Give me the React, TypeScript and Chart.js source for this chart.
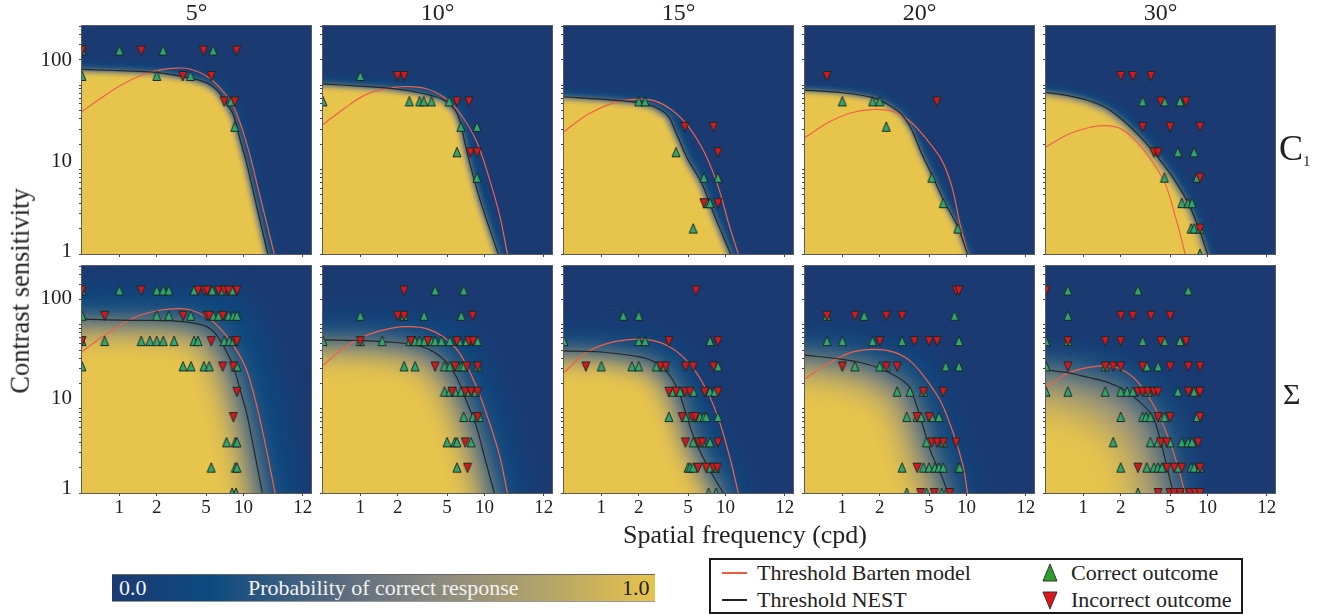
import React, { useEffect, useRef } from "react";
import { Chart, registerables } from "chart.js";

Chart.register(...registerables);

type Rows = [number, number[]][];

const FONT = '"Liberation Serif", serif';
const INK = "#222222";

const columnTitles = ["5°", "10°", "15°", "20°", "30°"];
const xTickValues = [1, 2, 5, 10, 30];
const xTickLabels = ["1", "2", "5", "10", "12"];
const yTickValues = [1, 2, 3, 4, 5, 6, 7, 8, 9, 10, 20, 30, 40, 50, 60, 70, 80, 90, 100, 200, 300, 400, 500];
const yLabelAnchorsTop = [1.06, 12.5, 193];
const yLabelAnchorsBottom = [1.13, 13.4, 207];
const yLabelTexts = ["1", "10", "100"];

// ---------- C1, 5° ----------
const a1Correct: Rows = [[256, [0.5, 1, 2.25, 5.7]], [128, [0.5, 2, 3.74]], [64, [7.9]], [32, [8.5]]];
const a1Incorrect: Rows = [[256, [0.5, 1.5, 4.76, 8.8]], [128, [3.24, 5.5]], [64, [7, 8.5]]];
const a1NestX = [0.5, 1.3, 2, 3.74, 5.06, 6.1, 7.3, 8.3, 9.4, 10.6, 12.8, 15.7];
const a1NestY = [153, 146, 141, 121, 106, 88, 61, 44, 22.5, 11.9, 3.6, 1];
const a1BartenX = [0.5, 0.7, 1.01, 1.47, 2.13, 2.9, 3.7, 5.06, 6.5, 8.3, 10.6, 13.6, 17.7];
const a1BartenY = [48.5, 69, 98, 129, 151, 159, 155, 127, 92, 56, 20.5, 4.8, 1];

// ---------- C1, 10° ----------
const b1Correct: Rows = [[128, [1]], [64, [0.5, 2.48, 3, 3.24, 3.74, 5.2]], [32, [6.45, 8.7]], [16, [6]], [8, [8.7]]];
const b1Incorrect: Rows = [[128, [1.99, 2.25]], [64, [6, 7.5]], [16, [7.7, 8.7]]];
const b1NestX = [0.5, 1, 1.84, 3, 4.64, 5.77, 6.4, 6.95, 7.6, 9.2, 12.9];
const b1NestY = [103, 97, 90.5, 81, 67.6, 51.5, 35.7, 20.7, 12, 4.4, 1];
const b1BartenX = [0.5, 0.725, 1.12, 1.84, 2.5, 3.4, 4.64, 6.3, 8.6, 11, 13.3, 15.3];
const b1BartenY = [34, 51.5, 77.6, 93, 96, 90.5, 72.7, 47, 21.7, 7.6, 2.8, 1];

// ---------- C1, 15° ----------
const c1Correct: Rows = [[64, [2, 2.25]], [16, [4]], [8, [6.7, 8.7]], [4, [7.1, 7.5]], [2, [5.5]]];
const c1Incorrect: Rows = [[32, [4.7, 8]], [16, [8.7]], [4, [6.7, 8.7]]];
const c1NestX = [0.5, 1, 1.97, 2.7, 3.45, 4, 5, 6.4, 8.2, 9.3, 11];
const c1NestY = [72.7, 68, 62, 55, 43, 27, 13, 7, 2.8, 1.8, 1];
const c1BartenX = [0.5, 0.78, 1.28, 1.97, 2.7, 3.67, 5, 6.8, 8.7, 10.8, 12.7];
const c1BartenY = [28, 45, 62, 68, 65, 51, 32.7, 15.7, 6.4, 2.1, 1];

// ---------- C1, 20° ----------
const d1Correct: Rows = [[64, [1, 1.75, 2]], [32, [2.26]], [8, [5.25]], [4, [6.5]], [2, [8.5]]];
const d1Incorrect: Rows = [[128, [0.75]], [64, [5.77]]];
const d1NestX = [0.5, 1, 1.75, 2.33, 3, 3.6, 4.33, 5.25, 6.5, 8.5, 10.2];
const d1NestY = [87, 81, 71, 59, 45, 30, 15.7, 8.7, 4.4, 2.1, 1];
const d1BartenX = [0.5, 0.77, 1.18, 1.82, 2.64, 3.6, 4.9, 6.3, 7.6, 8.85, 10.2];
const d1BartenY = [24, 36, 47, 51.5, 48, 36, 21.7, 13, 6.4, 2.3, 1];

// ---------- C1, 30° ----------
const e1Correct: Rows = [[64, [3, 4.5, 6]], [16, [5.77, 7.8]], [8, [4.5, 8.25]], [4, [6.2, 7, 7.5]], [2, [7.4, 7.8, 8.7]], [1, [8.7]]];
const e1Incorrect: Rows = [[128, [2, 2.5, 3.5]], [64, [4.2, 6.7]], [32, [3, 5, 8.7]], [16, [3.7, 4]], [8, [8.7]], [2, [8.7]]];
const e1NestX = [0.5, 0.75, 1.08, 1.57, 2.14, 2.92, 4, 5.4, 7, 8.6, 10];
const e1NestY = [82, 75, 66, 52.5, 37, 23.8, 13.8, 7.6, 4, 1.94, 1];
const e1BartenX = [0.5, 0.75, 1.08, 1.48, 2.01, 2.74, 3.74, 4.64, 5.6, 6.1, 6.6];
const e1BartenY = [18.5, 26, 31, 33, 30.3, 20.7, 11.4, 6.4, 2.55, 1.6, 1];

// ---------- Sigma, 5° ----------
const a2Correct: Rows = [
  [256, [0.5, 1, 2, 2.26, 2.5, 4, 5.6, 6.8, 8.1]],
  [128, [0.5, 2, 2.5, 3.76, 5.7, 6.3, 7.6, 8.3, 8.85]],
  [64, [0.5, 0.76, 1.5, 1.76, 2, 2.26, 2.76, 4, 4.3, 7, 7.7, 8.3]],
  [32, [0.5, 3.26, 3.78, 4.8, 5.3, 8.6, 8.85]],
  [4, [7.3, 8.6, 8.85]],
  [2, [5.5, 8.6, 8.85]],
  [1, [8.1, 8.7]],
];
const a2Incorrect: Rows = [
  [256, [0.5, 1.5, 4.3, 4.85, 5.1, 6.3, 7, 7.6, 8.85]],
  [128, [0.76, 3.26, 5.06, 5.3, 6.8]],
  [64, [0.5, 5.5, 8.6, 8.85]],
  [32, [6.8, 8.3]],
  [16, [8.85]],
  [8, [8.3]],
];
const a2NestX = [0.5, 1.3, 2.4, 3.7, 5.06, 6.1, 7.3, 8.3, 9.4, 10.6, 12, 14.2];
const a2NestY = [116.5, 113, 112, 106, 95, 75, 48, 32, 16.8, 8.9, 3.6, 1];
const a2BartenX = [0.5, 0.7, 1.01, 1.47, 2.13, 2.9, 3.7, 5.06, 6.5, 8.3, 10.6, 13.6, 18];
const a2BartenY = [48, 69, 99, 130, 149, 156, 151, 124, 90, 57, 29, 7.4, 1];

// ---------- Sigma, 10° ----------
const b2Correct: Rows = [
  [256, [4, 6.8]],
  [128, [1, 2.25, 3.26, 6.5]],
  [64, [0.5, 1, 1.5, 2.5, 2.76, 3, 3.28, 3.74, 4, 4.5, 5.25, 6.25, 7.2, 8.8]],
  [32, [2.25, 2.76, 4.76, 5.25, 6.1, 6.5, 6.8, 8.8]],
  [16, [4.76, 5.25, 5.8, 6.5, 7.2, 8.5]],
  [8, [6.8, 8.1, 8.8, 9.1]],
  [4, [5, 5.77, 6, 7.8]],
  [2, [6]],
];
const b2Incorrect: Rows = [
  [256, [2.25]],
  [128, [2, 2.25, 8]],
  [64, [1, 2.55, 3.5, 6, 7.5, 8.1]],
  [32, [4, 5.8, 7.2, 8.8]],
  [16, [5.5, 7, 7.8, 8.8]],
  [8, [8.8]],
  [4, [7]],
  [2, [7.3]],
];
const b2NestX = [0.5, 1, 1.84, 3, 3.85, 4.94, 5.95, 7.1, 8.6, 10, 12];
const b2NestY = [66, 65, 62, 56, 48, 36, 24, 12.8, 6.2, 2.7, 1];
const b2BartenX = [0.5, 0.725, 1.12, 1.84, 2.5, 3.4, 4.64, 6.3, 8.6, 11, 13.3, 15.3];
const b2BartenY = [33, 52, 75, 92, 95, 90, 72, 46, 18.5, 6.8, 2.7, 1];

// ---------- Sigma, 15° ----------
const c2Correct: Rows = [
  [128, [1.5, 2]],
  [64, [0.5, 2, 2.25, 7.5]],
  [32, [1, 1.76, 2, 2.78, 3.24, 8.7]],
  [16, [3.74, 4.3, 5.5, 7.5, 8.2]],
  [8, [3.5, 4.76, 5.4, 6.25, 6.7, 7, 8.7]],
  [4, [5.5, 6.5, 7.5]],
  [2, [5, 5.2, 5.5, 7.5, 8.3]],
  [1, [7.3, 8.4]],
];
const c2Incorrect: Rows = [
  [256, [5.77]],
  [64, [3.5, 8.7]],
  [32, [0.75, 3, 3.3, 4.76, 5.5, 8]],
  [16, [3.5, 4, 4.76, 5.15, 6.8, 8.7]],
  [8, [4.47, 5.4, 5.7]],
  [4, [4.76, 6.1, 6.5, 8.7]],
  [2, [6, 7, 8, 8.6]],
];
const c2NestX = [0.5, 1, 1.97, 2.7, 3.45, 4.15, 4.7, 5.66, 7.2, 9.6];
const c2NestY = [49, 47.5, 41.8, 36, 26.5, 16.8, 9.7, 4.3, 2.07, 1];
const c2BartenX = [0.5, 0.78, 1.28, 2.24, 3.45, 5, 6.8, 8.7, 10.8, 12.7];
const c2BartenY = [27, 48, 63, 67, 56, 36, 18.5, 8, 2.7, 1];

// ---------- Sigma, 20° ----------
const d2Correct: Rows = [
  [128, [0.75, 1.5, 8]],
  [64, [0.75, 1, 1.75, 3.03, 8.7]],
  [32, [1.26, 2, 2.26, 6.8, 8.7]],
  [16, [2.76, 3.5, 4.5]],
  [8, [3.3, 4, 4.3, 5.25, 6]],
  [4, [4.76, 6.5]],
  [2, [3.03, 4.5, 5, 5.55, 6, 6.5, 8.6, 8.8]],
  [1, [3.3, 4.76, 6.3, 6.9]],
];
const d2Incorrect: Rows = [
  [256, [8.25, 8.7]],
  [128, [0.75, 1.26, 2.26, 3.03]],
  [64, [2, 3.8, 5, 5.8]],
  [32, [1, 2.26, 2.76]],
  [16, [4.5, 6.5]],
  [8, [4, 5]],
  [4, [5.25, 5.8, 6.5, 8.25]],
  [2, [4]],
  [1, [4.27, 5.5, 7.3]],
];
const d2NestX = [0.5, 1, 1.42, 1.94, 2.64, 3.4, 3.83, 4.47, 5.2, 6.3, 7.1];
const d2NestY = [43.6, 38.8, 35.4, 31, 25, 19, 12.8, 6.2, 3, 1.6, 1];
const d2BartenX = [0.5, 0.77, 1.18, 1.82, 2.64, 3.6, 4.9, 6.3, 8, 9.4, 10.2];
const d2BartenY = [22.9, 34.7, 47, 51, 47, 36, 21, 11.7, 4.7, 2.07, 1];

// ---------- Sigma, 30° ----------
const e2Correct: Rows = [
  [256, [0.75, 2.75, 7]],
  [128, [0.75]],
  [64, [0.5, 0.75, 3, 4.5, 6]],
  [32, [0.5, 1.5, 3.24, 4]],
  [16, [0.5, 0.75, 1.5, 2, 2.25, 2.5, 3.3, 5.77, 7.8]],
  [8, [2, 3, 3.2, 3.47, 4.5, 8.25]],
  [4, [1.74, 3.47, 4, 5, 6.2, 7, 7.5]],
  [2, [2, 3.24, 3.7, 4, 4.3, 5.77, 7.4, 7.8, 8.7]],
  [1, [2.75, 4, 6.2]],
];
const e2Incorrect: Rows = [
  [256, [0.5]],
  [128, [2, 2.5, 3.5, 5]],
  [64, [0.75, 1.5, 2, 4.2, 6.7]],
  [32, [0.75, 1.5, 1.74, 2, 3, 5, 7, 8.7]],
  [16, [2.75, 3, 3.3, 3.7, 4, 7, 8.4, 8.7]],
  [8, [4, 5, 8.7]],
  [4, [4.2, 4.7, 8.4]],
  [2, [2.75, 4.7, 5.4, 6.2, 8.7]],
  [1, [4, 5, 5.4, 6, 7.2, 8, 8.7]],
];
const e2NestX = [0.5, 0.75, 1.08, 1.57, 2.14, 2.92, 3.62, 4.1, 4.64, 5.3];
const e2NestY = [29, 27, 23.8, 20.7, 16.8, 11.7, 8.1, 4.7, 2.27, 1];
const e2BartenX = [0.5, 0.75, 1.08, 1.48, 2.01, 2.74, 3.74, 4.8, 5.77, 6.57];
const e2BartenY = [17.9, 26.5, 31, 32.4, 29.6, 21, 10.6, 4.7, 2.07, 1];

type PanelData = {
  correct: Rows; incorrect: Rows;
  nestX: number[]; nestY: number[];
  bartenX: number[]; bartenY: number[];
};

const topRow: PanelData[] = [
  { correct: a1Correct, incorrect: a1Incorrect, nestX: a1NestX, nestY: a1NestY, bartenX: a1BartenX, bartenY: a1BartenY },
  { correct: b1Correct, incorrect: b1Incorrect, nestX: b1NestX, nestY: b1NestY, bartenX: b1BartenX, bartenY: b1BartenY },
  { correct: c1Correct, incorrect: c1Incorrect, nestX: c1NestX, nestY: c1NestY, bartenX: c1BartenX, bartenY: c1BartenY },
  { correct: d1Correct, incorrect: d1Incorrect, nestX: d1NestX, nestY: d1NestY, bartenX: d1BartenX, bartenY: d1BartenY },
  { correct: e1Correct, incorrect: e1Incorrect, nestX: e1NestX, nestY: e1NestY, bartenX: e1BartenX, bartenY: e1BartenY },
];
const bottomRow: PanelData[] = [
  { correct: a2Correct, incorrect: a2Incorrect, nestX: a2NestX, nestY: a2NestY, bartenX: a2BartenX, bartenY: a2BartenY },
  { correct: b2Correct, incorrect: b2Incorrect, nestX: b2NestX, nestY: b2NestY, bartenX: b2BartenX, bartenY: b2BartenY },
  { correct: c2Correct, incorrect: c2Incorrect, nestX: c2NestX, nestY: c2NestY, bartenX: c2BartenX, bartenY: c2BartenY },
  { correct: d2Correct, incorrect: d2Incorrect, nestX: d2NestX, nestY: d2NestY, bartenX: d2BartenX, bartenY: d2BartenY },
  { correct: e2Correct, incorrect: e2Incorrect, nestX: e2NestX, nestY: e2NestY, bartenX: e2BartenX, bartenY: e2BartenY },
];

// Softness of the probability field around the NEST threshold, per panel.
// [teal shift, teal blur, grey blur, yellow shift, yellow blur]
const topField = [
  [6, 5, 3, 3, 2.5],
  [6, 5, 3, 3, 2.5],
  [6, 5, 3, 3, 2.5],
  [4, 4, 3, 2, 2.5],
  [5, 4, 3, 3, 3],
];
const bottomField = [
  [30, 14, 13, 15, 13],
  [24, 14, 13, 15, 13],
  [18, 12, 11, 12, 10],
  [22, 14, 14, 17, 15],
  [20, 14, 16, 25, 21],
];

const panelLefts = [82, 323, 564, 805, 1046];
const PANEL_W = 229;
const PANEL_H = 228;

const NAVY = "#1b3a72";
const TEAL = "#0c4a80";
const GREY = "#8b8a80";
const GOLD = "#e7c44c";

function expand(rows: Rows) {
  const out: { x: number; y: number }[] = [];
  for (const [y, xs] of rows) for (const x of xs) out.push({ x, y });
  return out;
}

function trianglePoint(fill: string, down: boolean) {
  const c = document.createElement("canvas");
  c.width = 10;
  c.height = 12;
  const g = c.getContext("2d")!;
  g.beginPath();
  if (down) {
    g.moveTo(1, 1.5); g.lineTo(9, 1.5); g.lineTo(5, 11);
  } else {
    g.moveTo(1, 10.5); g.lineTo(9, 10.5); g.lineTo(5, 1);
  }
  g.closePath();
  g.fillStyle = fill;
  g.fill();
  g.lineWidth = 1;
  g.strokeStyle = "#1d2a24";
  g.stroke();
  return c;
}

function fieldPlugin(nestX: number[], nestY: number[], f: number[]) {
  const [tealShift, tealBlur, greyBlur, goldShift, goldBlur] = f;
  const layer = (chart: any, color: string, dx: number, dy: number, blur: number) => {
    const { ctx, scales } = chart;
    const px = nestX.map((v) => scales.x.getPixelForValue(v) + dx);
    const py = nestY.map((v) => scales.y.getPixelForValue(v) + dy);
    ctx.save();
    ctx.filter = `blur(${blur}px)`;
    ctx.fillStyle = color;
    ctx.beginPath();
    ctx.moveTo(px[0] - 400, py[0]);
    px.forEach((x, i) => ctx.lineTo(x, py[i]));
    ctx.lineTo(px[px.length - 1] + (px[px.length - 1] - px[px.length - 2]) * 4, py[py.length - 1] + 300);
    ctx.lineTo(px[0] - 400, py[py.length - 1] + 300);
    ctx.closePath();
    ctx.fill();
    ctx.restore();
  };
  return {
    id: "probabilityField",
    beforeDatasetsDraw(chart: any) {
      const { ctx, chartArea: a } = chart;
      ctx.save();
      ctx.beginPath();
      ctx.rect(a.left, a.top, a.width, a.height);
      ctx.clip();
      ctx.fillStyle = NAVY;
      ctx.fillRect(a.left, a.top, a.width, a.height);
      layer(chart, TEAL, tealShift, -tealShift, tealBlur);
      layer(chart, GREY, 0, 0, greyBlur);
      layer(chart, GOLD, -goldShift, goldShift, goldBlur);
      ctx.restore();
    },
    afterDatasetsDraw(chart: any) {
      const { ctx, chartArea: a } = chart;
      ctx.save();
      ctx.strokeStyle = "#5a5a5a";
      ctx.lineWidth = 1;
      ctx.strokeRect(a.left - 0.5, a.top - 0.5, a.width + 1, a.height + 1);
      ctx.restore();
    },
  };
}

function noMargins(s: any) {
  s.paddingTop = 0;
  s.paddingBottom = 0;
  s.paddingLeft = 0;
  s.paddingRight = 0;
}

function Panel(props: { data: PanelData; field: number[]; col: number; bottom: boolean }) {
  const { data, field, col, bottom } = props;
  const ref = useRef<HTMLCanvasElement>(null);
  const first = col === 0;
  const padLeft = first ? 60 : 6;
  const axisH = bottom ? 30 : 6;
  const titleH = bottom ? 5 : 26;
  const cw = padLeft + PANEL_W + 8;
  const ch = titleH + PANEL_H + axisH;
  const left = panelLefts[col] - padLeft;
  const top = bottom ? 260 : 0;
  const yLabelAnchors = bottom ? yLabelAnchorsBottom : yLabelAnchorsTop;

  useEffect(() => {
    const scales: any = {
      x: {
        type: "logarithmic",
        min: 0.5,
        max: 35,
        afterBuildTicks: (s: any) => { s.ticks = xTickValues.map((value) => ({ value })); },
        afterFit: (s: any) => { s.height = axisH; noMargins(s); },
        border: { display: true, color: "#5a5a5a" },
        grid: { drawOnChartArea: false, drawTicks: true, tickLength: 3, tickColor: "#444", tickWidth: 1 },
        ticks: {
          display: bottom,
          autoSkip: false,
          maxRotation: 0,
          minRotation: 0,
          padding: 1,
          color: INK,
          font: { family: FONT, size: 19 },
          callback: (v: any) => { const i = xTickValues.indexOf(Number(v)); return i >= 0 ? xTickLabels[i] : ""; },
        },
      },
      y: {
        type: "logarithmic",
        position: "left",
        weight: 0,
        min: 1,
        max: 500,
        afterBuildTicks: (s: any) => { s.ticks = yTickValues.map((value) => ({ value })); },
        afterFit: (s: any) => { s.width = 6; noMargins(s); },
        border: { display: true, color: "#5a5a5a" },
        grid: { drawOnChartArea: false, drawTicks: true, tickLength: 3, tickColor: "#444", tickWidth: 1 },
        ticks: { display: false, autoSkip: false },
      },
    };
    if (first) {
      scales.yLabels = {
        type: "logarithmic",
        position: "left",
        weight: 1,
        min: 1,
        max: 500,
        afterBuildTicks: (s: any) => { s.ticks = yLabelAnchors.map((value) => ({ value })); },
        afterFit: (s: any) => { s.width = 54; noMargins(s); },
        border: { display: false },
        grid: { display: false, drawTicks: false },
        ticks: {
          autoSkip: false,
          padding: 4,
          color: INK,
          font: { family: FONT, size: 21 },
          callback: (v: any) => { const i = yLabelAnchors.indexOf(Number(v)); return i >= 0 ? yLabelTexts[i] : ""; },
        },
      };
    }
    const chart = new Chart(ref.current!, {
      type: "scatter",
      data: {
        datasets: [
          {
            label: "Incorrect outcome",
            data: expand(data.incorrect),
            pointStyle: trianglePoint("#d8161d", true),
            pointRadius: 5,
            clip: 0,
            order: 0,
            yAxisID: "y",
          },
          {
            label: "Correct outcome",
            data: expand(data.correct),
            pointStyle: trianglePoint("#31a66e", false),
            pointRadius: 5,
            clip: 0,
            order: 1,
            yAxisID: "y",
          },
          {
            label: "Threshold NEST",
            data: data.nestX.map((x, i) => ({ x, y: data.nestY[i] })),
            showLine: true,
            pointRadius: 0,
            borderColor: "#262626",
            borderWidth: 1.2,
            tension: 0.35,
            order: 2,
            yAxisID: "y",
          },
          {
            label: "Threshold Barten model",
            data: data.bartenX.map((x, i) => ({ x, y: data.bartenY[i] })),
            showLine: true,
            pointRadius: 0,
            borderColor: "#f1604b",
            borderWidth: 1.2,
            tension: 0.35,
            order: 3,
            yAxisID: "y",
          },
        ],
      } as any,
      options: {
        animation: false,
        responsive: false,
        maintainAspectRatio: false,
        events: [],
        layout: { padding: { left: 0, right: 8, top: 0, bottom: 0 } },
        scales,
        plugins: {
          legend: { display: false },
          tooltip: { enabled: false },
          title: {
            display: !bottom,
            text: columnTitles[col],
            fullSize: false,
            color: INK,
            font: { family: FONT, size: 24, weight: "normal", lineHeight: 1 },
            padding: { top: 2, bottom: 0 },
          },
        },
      } as any,
      plugins: [fieldPlugin(data.nestX, data.nestY, field)],
    });
    return () => chart.destroy();
  }, []);

  return (
    <canvas
      ref={ref}
      width={cw}
      height={ch}
      style={{ position: "absolute", left, top, width: cw, height: ch, display: "block" }}
    />
  );
}

const txt = (left: number, top: number, size: number, content: string, extra: any = {}) => (
  <span
    style={{
      position: "absolute", left, top, fontFamily: FONT, fontSize: size, color: INK,
      lineHeight: `${size}px`, whiteSpace: "nowrap", ...extra,
    }}
  >
    {content}
  </span>
);

const legendTriangle = (left: number, top: number, fill: string, down: boolean) => (
  <svg width={16} height={20} style={{ position: "absolute", left, top }}>
    <polygon
      points={down ? "1,2 15,2 8,19" : "1,18 15,18 8,1"}
      fill={fill}
      stroke="#333"
      strokeWidth={1}
    />
  </svg>
);

export default function App() {
  return (
    <div style={{ position: "absolute", left: 0, top: 0, width: 1323, height: 615, overflow: "hidden", background: "#fff" }}>
      {topRow.map((d, i) => <Panel key={`t${i}`} data={d} field={topField[i]} col={i} bottom={false} />)}
      {bottomRow.map((d, i) => <Panel key={`b${i}`} data={d} field={bottomField[i]} col={i} bottom={true} />)}

      {txt(20, 291, 26.5, "Contrast sensitivity", { position: "absolute", transform: "translate(-50%,-50%) rotate(-90deg)" })}
      {txt(745, 535, 26, "Spatial frequency (cpd)", { transform: "translate(-50%,-50%)" })}
      {txt(1279, 130, 36, "C")}
      {txt(1303, 154, 15, "1")}
      {txt(1283, 379, 30, "Σ")}

      <div
        style={{
          position: "absolute", left: 112, top: 574, width: 543, height: 28,
          borderTop: "1px solid #666", borderBottom: "1px solid #999", boxSizing: "border-box",
          background: "linear-gradient(90deg,#1b3a72 0%,#0c4a80 18%,#5a6b80 42%,#8b8a80 60%,#b3a468 80%,#e7c44c 100%)",
        }}
      />
      {txt(119, 577, 22, "0.0", { color: "#f2f2f2" })}
      {txt(248, 577, 22, "Probability of correct response", { color: "#f2f2f2" })}
      {txt(622, 577, 22, "1.0", { color: "#222" })}

      <div
        style={{
          position: "absolute", left: 709, top: 558, width: 534, height: 56,
          border: "2px solid #1a1a1a", boxSizing: "border-box",
        }}
      />
      <div style={{ position: "absolute", left: 722, top: 572, width: 25, height: 2, background: "#ef5a3c" }} />
      <div style={{ position: "absolute", left: 722, top: 599, width: 25, height: 2, background: "#222" }} />
      {txt(757, 562, 22, "Threshold Barten model")}
      {txt(757, 589, 22, "Threshold NEST")}
      {legendTriangle(1042, 563, "#2aa02b", false)}
      {legendTriangle(1042, 590, "#e0141c", true)}
      {txt(1071, 562, 22, "Correct outcome")}
      {txt(1071, 589, 22, "Incorrect outcome")}
    </div>
  );
}
